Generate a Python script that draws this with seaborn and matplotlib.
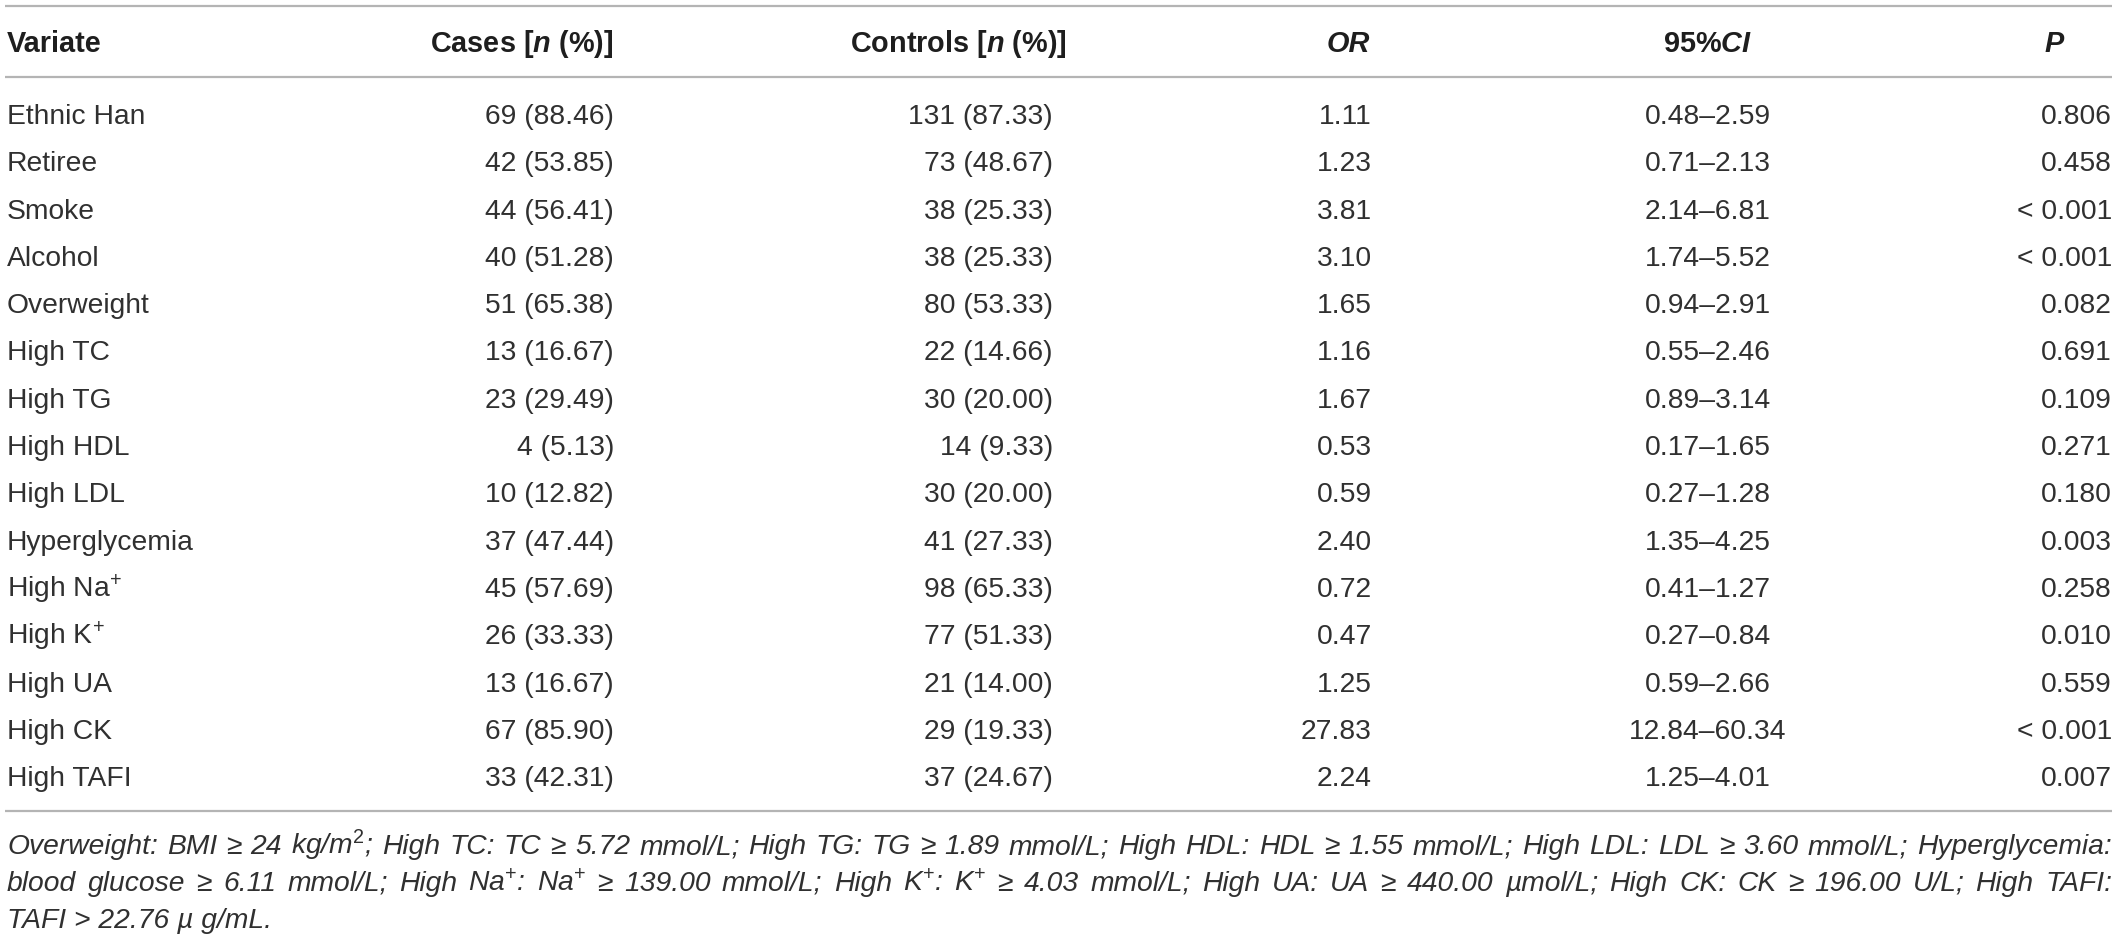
import matplotlib
matplotlib.use("Agg")
import matplotlib.pyplot as plt
import seaborn as sns

# table contents
headers = ["Variate", "Cases [$n$ (%)]", "Controls [$n$ (%)]", "OR", "95%$CI$", "P"]
variates = ["Ethnic Han", "Retiree", "Smoke", "Alcohol", "Overweight", "High TC", "High TG",
            "High HDL", "High LDL", "Hyperglycemia", "High Na$^{+}$", "High K$^{+}$",
            "High UA", "High CK", "High TAFI"]
cases_n = [69, 42, 44, 40, 51, 13, 23, 4, 10, 37, 45, 26, 13, 67, 33]
cases_pct = [88.46, 53.85, 56.41, 51.28, 65.38, 16.67, 29.49, 5.13, 12.82, 47.44,
             57.69, 33.33, 16.67, 85.90, 42.31]
controls_n = [131, 73, 38, 38, 80, 22, 30, 14, 30, 41, 98, 77, 21, 29, 37]
controls_pct = [87.33, 48.67, 25.33, 25.33, 53.33, 14.66, 20.00, 9.33, 20.00, 27.33,
                65.33, 51.33, 14.00, 19.33, 24.67]
odds_ratio = [1.11, 1.23, 3.81, 3.10, 1.65, 1.16, 1.67, 0.53, 0.59, 2.40, 0.72, 0.47,
              1.25, 27.83, 2.24]
ci_low = [0.48, 0.71, 2.14, 1.74, 0.94, 0.55, 0.89, 0.17, 0.27, 1.35, 0.41, 0.27,
          0.59, 12.84, 1.25]
ci_high = [2.59, 2.13, 6.81, 5.52, 2.91, 2.46, 3.14, 1.65, 1.28, 4.25, 1.27, 0.84,
           2.66, 60.34, 4.01]
p_values = ["0.806", "0.458", "< 0.001", "< 0.001", "0.082", "0.691", "0.109", "0.271",
            "0.180", "0.003", "0.258", "0.010", "0.559", "< 0.001", "0.007"]
footnote_lines = [
    "Overweight: BMI ≥ 24 kg/m$^{2}$; High TC: TC ≥ 5.72 mmol/L; High TG: TG ≥ 1.89 mmol/L; "
    "High HDL: HDL ≥ 1.55 mmol/L; High LDL: LDL ≥ 3.60 mmol/L; Hyperglycemia:",
    "blood glucose ≥ 6.11 mmol/L; High Na$^{+}$: Na$^{+}$ ≥ 139.00 mmol/L; High K$^{+}$: "
    "K$^{+}$ ≥ 4.03 mmol/L; High UA: UA ≥ 440.00 µmol/L; High CK: CK ≥ 196.00 U/L; High TAFI:",
    "TAFI > 22.76 µ g/mL.",
]

sns.set_theme(style="white")
plt.rcParams["font.family"] = ["Liberation Sans", "DejaVu Sans"]
plt.rcParams["mathtext.fontset"] = "custom"
plt.rcParams["mathtext.rm"] = "Liberation Sans"
plt.rcParams["mathtext.it"] = "Liberation Sans:italic:bold"
plt.rcParams["mathtext.bf"] = "Liberation Sans:bold"

W, H = 2118, 940
fig = plt.figure(figsize=(W / 100, H / 100), dpi=100)
ax = fig.add_axes([0, 0, 1, 1])
ax.set_xlim(0, W)
ax.set_ylim(H, 0)
ax.axis("off")

head_color = "#1e1e1e"
body_color = "#303030"
rule_color = "#b4b4b4"
fs_body = 20.3
fs_head = 20.8
fs_note = 20.3
left, right = 7, 2112

# horizontal rules
for y in [6, 77, 811]:
    ax.plot([5, right], [y, y], color=rule_color, lw=1.6, solid_capstyle="butt")

# header row (baseline)
hy = 52
hk = dict(fontsize=fs_head, fontweight="bold", color=head_color, va="baseline")
ax.text(left, hy, headers[0], ha="left", **hk)
ax.text(613, hy, headers[1], ha="right", **hk)
ax.text(1067, hy, headers[2], ha="right", **hk)
ax.text(1370, hy, headers[3], ha="right", fontstyle="italic", **hk)
ax.text(1708, hy, headers[4], ha="center", **hk)
ax.text(2054, hy, headers[5], ha="center", fontstyle="italic", **hk)

# body rows
bk = dict(fontsize=fs_body, color=body_color, va="baseline")
for i, name in enumerate(variates):
    y = 124 + i * 47.3
    ax.text(left, y, name, ha="left", **bk)
    ax.text(614, y, f"{cases_n[i]} ({cases_pct[i]:.2f})", ha="right", **bk)
    ax.text(1053, y, f"{controls_n[i]} ({controls_pct[i]:.2f})", ha="right", **bk)
    ax.text(1372, y, f"{odds_ratio[i]:.2f}", ha="right", **bk)
    ax.text(1708, y, f"{ci_low[i]:.2f}–{ci_high[i]:.2f}", ha="center", **bk)
    ax.text(right, y, p_values[i], ha="right", **bk)

# footnote, first two lines justified to the table width
renderer = fig.canvas.get_renderer()
nk = dict(fontsize=fs_note, fontstyle="italic", color=body_color, va="baseline", ha="left")
for j, line in enumerate(footnote_lines):
    y = 854 + j * 37
    if j == len(footnote_lines) - 1:
        ax.text(left, y, line, **nk)
        continue
    words = line.split(" ")
    arts = [ax.text(left, y, w, **nk) for w in words]
    widths = [a.get_window_extent(renderer).width for a in arts]
    gap = (right - left - sum(widths)) / (len(words) - 1)
    x = left
    for a, w in zip(arts, widths):
        a.set_x(x)
        x += w + gap

fig.savefig("out.png", dpi=100, facecolor="white")
